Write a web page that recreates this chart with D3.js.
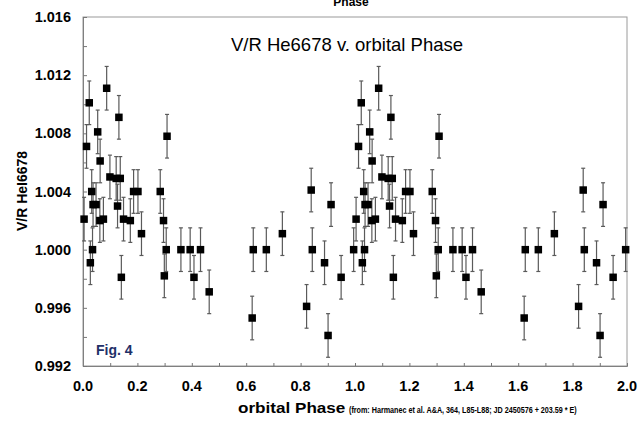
<!DOCTYPE html>
<html><head><meta charset="utf-8">
<script src="https://cdn.jsdelivr.net/npm/d3@7/dist/d3.min.js"></script>
<style>
html,body{margin:0;padding:0;background:#fff;}
svg{display:block;font-family:"Liberation Sans",Arial,sans-serif;}
</style></head>
<body>
<svg id="chart" width="640" height="421"></svg>
<script>
// Orbital phase (0..1) of each measurement; plotted again at phase+1
const phases = [0.004,0.013,0.023,0.027,0.032,0.035,0.037,0.048,0.054,0.062,0.063,0.075,0.087,0.099,0.122,0.127,0.132,0.137,0.141,0.149,0.174,0.186,0.202,0.215,0.284,0.296,0.299,0.306,0.309,0.360,0.394,0.408,0.432,0.464,0.622,0.626,0.674,0.733,0.822,0.839,0.843,0.888,0.901,0.912,0.949,0.995];
// V/R HeI 6678 ratio
const vr = [1.0021,1.0071,1.0101,0.9991,1.0040,1.0000,1.0031,1.0031,1.0081,1.0020,1.0061,1.0021,1.0111,1.0050,1.0049,1.0030,1.0091,1.0049,0.9981,1.0021,1.0020,1.0040,1.0040,1.0011,1.0040,1.0020,0.9982,1.0000,1.0078,1.0000,1.0000,0.9981,1.0000,0.9971,0.9953,1.0000,1.0000,1.0011,0.9961,1.0041,1.0000,0.9991,0.9941,1.0031,0.9981,1.0000];
// error (±) of each measurement
const errs = phases.map(() => 0.0015);
const xTickLabels = ["0.0","0.2","0.4","0.6","0.8","1.0","1.2","1.4","1.6","1.8","2.0"];
const yTickLabels = ["0.992","0.996","1.000","1.004","1.008","1.012","1.016"];

const svg = d3.select("#chart");
const L = 83, R = 627, T = 17, B = 366;
const x = d3.scaleLinear().domain([0, 2]).range([L, R]);
const y = d3.scaleLinear().domain([0.992, 1.016]).range([B, T]);

// data in two cycles
const pts = [];
phases.forEach((p, i) => {
  pts.push({x: p, y: vr[i], e: errs[i]});
  pts.push({x: p + 1, y: vr[i], e: errs[i]});
});

// frame
svg.append("rect").attr("x", L).attr("y", T).attr("width", R - L).attr("height", B - T)
  .attr("fill", "none").attr("stroke", "#9a9a9a").attr("stroke-width", 1);

// inner ticks
const xAxis = d3.axisBottom(x).tickValues(d3.range(0, 2.0001, 0.1)).tickSize(-3).tickFormat("");
const gx = svg.append("g").attr("transform", `translate(0,${B})`).call(xAxis);
const yAxis = d3.axisLeft(y).tickValues(d3.range(0.992, 1.01601, 0.002)).tickSize(-4).tickFormat("");
const gy = svg.append("g").attr("transform", `translate(${L},0)`).call(yAxis);
[gx, gy].forEach(g => {
  g.select(".domain").attr("stroke", "#808080");
  g.selectAll(".tick line").attr("stroke", "#777");
});

// tick labels
svg.append("g").selectAll("text").data(xTickLabels).join("text")
  .attr("x", d => x(+d)).attr("y", 391)
  .attr("text-anchor", "middle").attr("font-size", 14.5).attr("font-weight", "bold")
  .text(d => d);
svg.append("g").selectAll("text").data(yTickLabels).join("text")
  .attr("x", 71).attr("y", d => y(+d)).attr("dy", "0.35em")
  .attr("text-anchor", "end").attr("font-size", 14.5).attr("font-weight", "bold")
  .text(d => d);

// error bars
const eb = svg.append("g").attr("stroke", "#5a5a5a").attr("stroke-width", 1.2);
eb.selectAll("line.v").data(pts).join("line").attr("class", "v")
  .attr("x1", d => x(d.x)).attr("x2", d => x(d.x))
  .attr("y1", d => y(d.y - d.e)).attr("y2", d => y(d.y + d.e));
eb.selectAll("line.t").data(pts).join("line").attr("class", "t")
  .attr("x1", d => x(d.x) - 2).attr("x2", d => x(d.x) + 2)
  .attr("y1", d => y(d.y + d.e)).attr("y2", d => y(d.y + d.e));
eb.selectAll("line.b").data(pts).join("line").attr("class", "b")
  .attr("x1", d => x(d.x) - 2).attr("x2", d => x(d.x) + 2)
  .attr("y1", d => y(d.y - d.e)).attr("y2", d => y(d.y - d.e));

// markers
const s = 7.5;
svg.append("g").selectAll("rect").data(pts).join("rect")
  .attr("x", d => x(d.x) - s / 2).attr("y", d => y(d.y) - s / 2)
  .attr("width", s).attr("height", s).attr("fill", "#000");

// titles
svg.append("text").attr("x", 351).attr("y", 6).attr("text-anchor", "middle")
  .attr("font-size", 12).attr("font-weight", "bold").text("Phase");
svg.append("text").attr("x", 347).attr("y", 51).attr("text-anchor", "middle")
  .attr("font-size", 18.5).text("V/R He6678 v. orbital Phase");
svg.append("text").attr("x", 96).attr("y", 355).attr("font-size", 14).attr("font-weight", "bold")
  .attr("fill", "#1f3068").text("Fig. 4");
svg.append("text").attr("transform", "translate(27,191) rotate(-90)").attr("text-anchor", "middle")
  .attr("font-size", 14).attr("font-weight", "bold").text("V/R HeI6678");
svg.append("text").attr("transform", "translate(238,413) scale(1.14,1)")
  .attr("font-weight", "bold").attr("font-size", 15).text("orbital Phase");
svg.append("text").attr("transform", "translate(349,413) scale(0.8,1)")
  .attr("font-weight", "bold").attr("font-size", 9)
  .text("(from: Harmanec et al. A&A, 364, L85-L88; JD 2450576 + 203.59 * E)");
</script>
</body></html>
